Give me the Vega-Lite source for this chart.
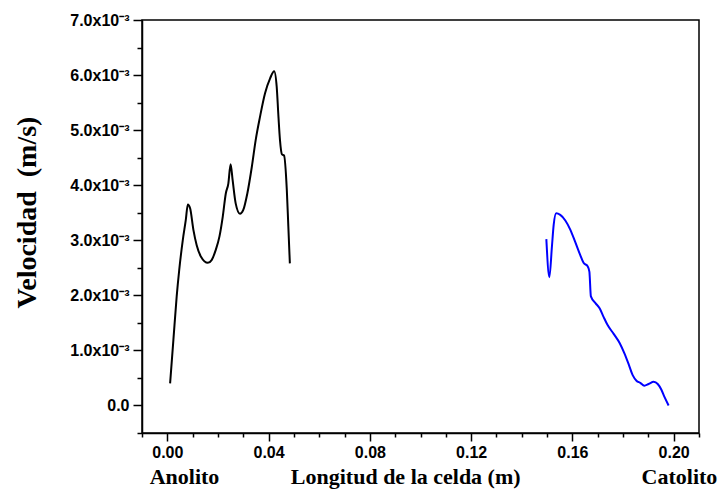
{
  "$schema": "https://vega.github.io/schema/vega-lite/v6.json",
  "width": 557,
  "height": 413,
  "autosize": "none",
  "padding": {"left": 142, "top": 20, "right": 24, "bottom": 70},
  "background": "white",
  "config": {
    "view": {"stroke": "black", "strokeWidth": 1.5},
    "axis": {
      "grid": false,
      "domainColor": "black",
      "domainWidth": 1.5,
      "tickColor": "black",
      "tickWidth": 1.5,
      "labelFont": "Liberation Sans",
      "labelFontWeight": "bold",
      "labelFontSize": 16,
      "labelColor": "black",
      "labelOverlap": false,
      "labelBound": false,
      "labelFlush": false,
      "titleFont": "Liberation Serif",
      "titleFontWeight": "bold",
      "titleFontSize": 22,
      "titleColor": "black"
    }
  },
  "data": {
    "values": [
      {"lado": "Anolito", "x": 0.0011, "v": 0.00040},
      {"lado": "Anolito", "x": 0.0024, "v": 0.00119},
      {"lado": "Anolito", "x": 0.0037, "v": 0.00198},
      {"lado": "Anolito", "x": 0.0047, "v": 0.00246},
      {"lado": "Anolito", "x": 0.0061, "v": 0.00300},
      {"lado": "Anolito", "x": 0.0073, "v": 0.00337},
      {"lado": "Anolito", "x": 0.0081, "v": 0.00365},
      {"lado": "Anolito", "x": 0.0090, "v": 0.00358},
      {"lado": "Anolito", "x": 0.0103, "v": 0.00319},
      {"lado": "Anolito", "x": 0.0116, "v": 0.00291},
      {"lado": "Anolito", "x": 0.0133, "v": 0.00270},
      {"lado": "Anolito", "x": 0.0160, "v": 0.00259},
      {"lado": "Anolito", "x": 0.0175, "v": 0.00264},
      {"lado": "Anolito", "x": 0.0191, "v": 0.00282},
      {"lado": "Anolito", "x": 0.0206, "v": 0.00307},
      {"lado": "Anolito", "x": 0.0219, "v": 0.00343},
      {"lado": "Anolito", "x": 0.0231, "v": 0.00385},
      {"lado": "Anolito", "x": 0.0241, "v": 0.00403},
      {"lado": "Anolito", "x": 0.0250, "v": 0.00438},
      {"lado": "Anolito", "x": 0.0258, "v": 0.00409},
      {"lado": "Anolito", "x": 0.0270, "v": 0.00367},
      {"lado": "Anolito", "x": 0.0287, "v": 0.00348},
      {"lado": "Anolito", "x": 0.0300, "v": 0.00355},
      {"lado": "Anolito", "x": 0.0316, "v": 0.00385},
      {"lado": "Anolito", "x": 0.0334, "v": 0.00434},
      {"lado": "Anolito", "x": 0.0349, "v": 0.00482},
      {"lado": "Anolito", "x": 0.0366, "v": 0.00524},
      {"lado": "Anolito", "x": 0.0386, "v": 0.00567},
      {"lado": "Anolito", "x": 0.0406, "v": 0.00594},
      {"lado": "Anolito", "x": 0.0422, "v": 0.00607},
      {"lado": "Anolito", "x": 0.0432, "v": 0.00579},
      {"lado": "Anolito", "x": 0.0439, "v": 0.00524},
      {"lado": "Anolito", "x": 0.0445, "v": 0.00482},
      {"lado": "Anolito", "x": 0.0453, "v": 0.00456},
      {"lado": "Anolito", "x": 0.0461, "v": 0.00454},
      {"lado": "Anolito", "x": 0.0472, "v": 0.00391},
      {"lado": "Anolito", "x": 0.0478, "v": 0.00325},
      {"lado": "Anolito", "x": 0.0484, "v": 0.00258},
      {"lado": "Catolito", "x": 0.1497, "v": 0.00302},
      {"lado": "Catolito", "x": 0.1509, "v": 0.00233},
      {"lado": "Catolito", "x": 0.1519, "v": 0.00288},
      {"lado": "Catolito", "x": 0.1526, "v": 0.00328},
      {"lado": "Catolito", "x": 0.1536, "v": 0.00349},
      {"lado": "Catolito", "x": 0.1552, "v": 0.00346},
      {"lado": "Catolito", "x": 0.1572, "v": 0.00336},
      {"lado": "Catolito", "x": 0.1592, "v": 0.00319},
      {"lado": "Catolito", "x": 0.1611, "v": 0.00297},
      {"lado": "Catolito", "x": 0.1631, "v": 0.00273},
      {"lado": "Catolito", "x": 0.1644, "v": 0.00259},
      {"lado": "Catolito", "x": 0.1660, "v": 0.00253},
      {"lado": "Catolito", "x": 0.1667, "v": 0.00243},
      {"lado": "Catolito", "x": 0.1673, "v": 0.00198},
      {"lado": "Catolito", "x": 0.1691, "v": 0.00186},
      {"lado": "Catolito", "x": 0.1708, "v": 0.00176},
      {"lado": "Catolito", "x": 0.1723, "v": 0.00161},
      {"lado": "Catolito", "x": 0.1739, "v": 0.00146},
      {"lado": "Catolito", "x": 0.1763, "v": 0.00130},
      {"lado": "Catolito", "x": 0.1787, "v": 0.00113},
      {"lado": "Catolito", "x": 0.1805, "v": 0.00095},
      {"lado": "Catolito", "x": 0.1822, "v": 0.00075},
      {"lado": "Catolito", "x": 0.1838, "v": 0.00055},
      {"lado": "Catolito", "x": 0.1853, "v": 0.00045},
      {"lado": "Catolito", "x": 0.1868, "v": 0.00041},
      {"lado": "Catolito", "x": 0.1884, "v": 0.00036},
      {"lado": "Catolito", "x": 0.1901, "v": 0.00039},
      {"lado": "Catolito", "x": 0.1921, "v": 0.00043},
      {"lado": "Catolito", "x": 0.1937, "v": 0.00039},
      {"lado": "Catolito", "x": 0.1951, "v": 0.00029},
      {"lado": "Catolito", "x": 0.1964, "v": 0.00015},
      {"lado": "Catolito", "x": 0.1980, "v": 0.00000}
    ]
  },
  "mark": {"type": "line", "strokeWidth": 2, "interpolate": "monotone"},
  "encoding": {
    "x": {
      "field": "x",
      "type": "quantitative",
      "scale": {"domain": [-0.01, 0.21], "nice": false, "zero": false},
      "axis": {
        "title": "Anolito\u00a0\u00a0\u00a0\u00a0\u00a0\u00a0\u00a0\u00a0\u00a0\u00a0\u00a0\u00a0\u00a0Longitud de la celda (m)\u00a0\u00a0\u00a0\u00a0\u00a0\u00a0\u00a0\u00a0\u00a0\u00a0\u00a0\u00a0\u00a0\u00a0\u00a0\u00a0\u00a0\u00a0\u00a0\u00a0\u00a0\u00a0Catolito",
        "titleX": 291,
        "titleY": 50,
        "titleAlign": "center",
        "titleBaseline": "alphabetic",
        "values": [-0.01, 0, 0.01, 0.02, 0.03, 0.04, 0.05, 0.06, 0.07, 0.08, 0.09, 0.1, 0.11, 0.12, 0.13, 0.14, 0.15, 0.16, 0.17, 0.18, 0.19, 0.2, 0.21],
        "labelExpr": "abs(datum.value*25 - round(datum.value*25)) < 1e-6 ? format(datum.value, '.2f') : ''",
        "tickSize": {"condition": {"test": "abs(datum.value*25 - round(datum.value*25)) < 1e-6", "value": 8}, "value": 4},
        "labelPadding": 3
      }
    },
    "y": {
      "field": "v",
      "type": "quantitative",
      "scale": {"domain": [-0.0005, 0.007], "nice": false, "zero": false},
      "axis": {
        "title": "Velocidad\u00a0\u00a0(m/s)",
        "titleX": -115,
        "titleY": 192,
        "titleAngle": 270,
        "titleAlign": "center",
        "titleBaseline": "middle",
        "titleFontSize": 28,
        "values": [-0.0005, 0, 0.0005, 0.001, 0.0015, 0.002, 0.0025, 0.003, 0.0035, 0.004, 0.0045, 0.005, 0.0055, 0.006, 0.0065, 0.007],
        "labelExpr": "abs(datum.value*1000 - round(datum.value*1000)) < 1e-6 ? (round(datum.value*1000) == 0 ? '0.0' : format(round(datum.value*1000), '.1f') + 'x10\u207b\u00b3') : ''",
        "tickSize": {"condition": {"test": "abs(datum.value*1000 - round(datum.value*1000)) < 1e-6", "value": 9}, "value": 5},
        "labelPadding": 4
      }
    },
    "color": {
      "field": "lado",
      "type": "nominal",
      "scale": {"domain": ["Anolito", "Catolito"], "range": ["#000000", "#0000ff"]},
      "legend": null
    }
  }
}
